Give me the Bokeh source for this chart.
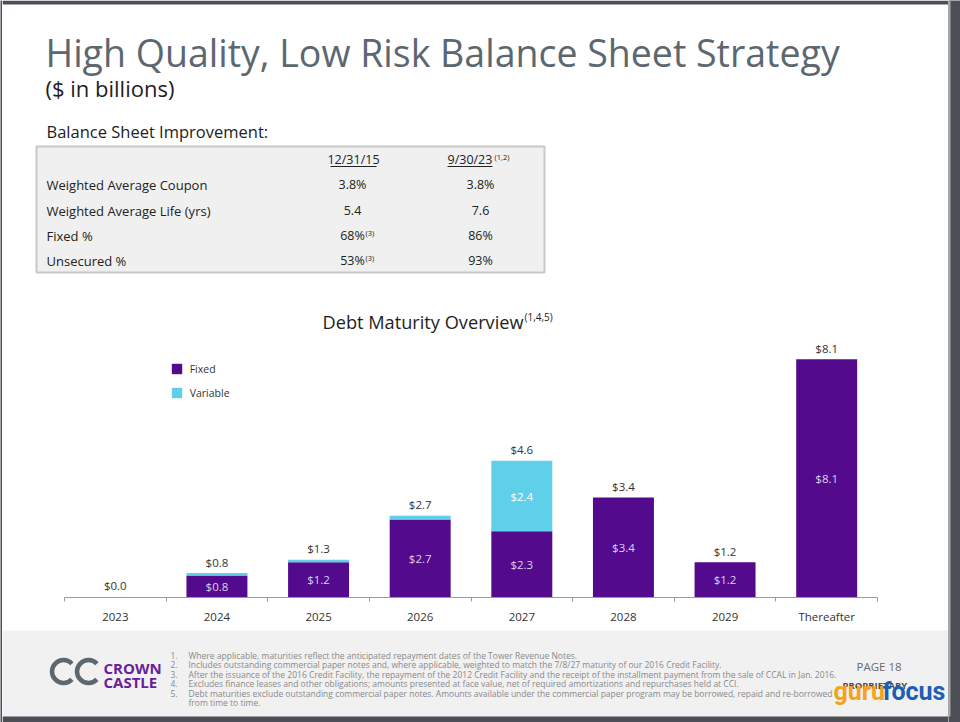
from bokeh.plotting import figure
from bokeh.models import ColumnDataSource, Range1d, FixedTicker, Legend, LegendItem
from bokeh.layouts import row, column
from bokeh.embed import file_html
from bokeh.resources import INLINE
from bokeh.core.properties import value

# ---------------- data ----------------
categories = ["2023", "2024", "2025", "2026", "2027", "2028", "2029", "Thereafter"]
fixed = [0.0, 0.75, 1.2, 2.65, 2.25, 3.4, 1.2, 8.1]
variable = [0.02, 0.08, 0.08, 0.13, 2.4, 0.0, 0.0, 0.0]
total_labels = ["$0.0", "$0.8", "$1.3", "$2.7", "$4.6", "$3.4", "$1.2", "$8.1"]
fixed_labels = ["", "$0.8", "$1.2", "$2.7", "$2.3", "$3.4", "$1.2", "$8.1"]
variable_labels = ["", "", "", "", "$2.4", "", "", ""]

table_headers = ["12/31/15", "9/30/23"]
table_rows = ["Weighted Average Coupon", "Weighted Average Life (yrs)", "Fixed %", "Unsecured %"]
col_2015 = ["3.8%", "5.4", "68%", "53%"]
col_2015_notes = ["", "", "(3)", "(3)"]
col_2023 = ["3.8%", "7.6", "86%", "93%"]

footnotes = [
    ("1.", "Where applicable, maturities reflect the anticipated repayment dates of the Tower Revenue Notes."),
    ("2.", "Includes outstanding commercial paper notes and, where applicable, weighted to match the 7/8/27 maturity of our 2016 Credit Facility."),
    ("3.", "After the issuance of the 2016 Credit Facility, the repayment of the 2012 Credit Facility and the receipt of the installment payment from the sale of CCAL in Jan. 2016."),
    ("4.", "Excludes finance leases and other obligations; amounts presented at face value, net of required amortizations and repurchases held at CCI."),
    ("5.", "Debt maturities exclude outstanding commercial paper notes. Amounts available under the commercial paper program may be borrowed, repaid and re-borrowed"),
    ("", "from time to time."),
]

# ---------------- style ----------------
FONT = "Open Sans"
PURPLE = "#530a8c"
CYAN = "#60cfea"
DARK = "#4b4f55"
SLATE = "#5c6770"

PAGE_L, PAGE_R = 2, 948          # white page area (page pixels)
AX_L, AX_R = 64, 877             # chart axis extent (page pixels)


def base_fig(w, h, xr, yr, bg="white"):
    f = figure(width=w, height=h, x_range=xr, y_range=yr, x_axis_location=None,
               y_axis_location=None, min_border=0, toolbar_location=None,
               output_backend="svg", outline_line_color=None,
               background_fill_color=bg, border_fill_color=bg)
    f.grid.visible = False
    return f


def txt(f, x, y, s, size, color, align="left", style="normal", font=FONT, baseline="middle"):
    f.text(x=[x], y=[y], text=[s], text_font=value(font), text_font_size=value(f"{size}px"),
           text_color=color, text_align=align, text_baseline=baseline,
           text_font_style=style)


# ---------------- header ----------------
H_TOP = 335
hdr = base_fig(PAGE_R - PAGE_L, H_TOP, Range1d(PAGE_L, PAGE_R), Range1d(H_TOP, 0))
hdr.quad(left=PAGE_L, right=PAGE_R, top=0, bottom=4, fill_color=DARK, line_color=None)
txt(hdr, 45, 52, "High Quality, Low Risk Balance Sheet Strategy", 37.5, SLATE)
txt(hdr, 45, 87, "($ in billions)", 22, "#1e1e1e")
txt(hdr, 46, 131, "Balance Sheet Improvement:", 16.5, "#222222")

hdr.quad(left=36, right=544, top=146, bottom=272, fill_color="#f0f0f0",
         line_color="#c8c8c8", line_width=2)
TS = 12.5
C1, C2 = 352, 480
txt(hdr, 353, 159, table_headers[0], TS, "#222222", align="center")
txt(hdr, 447, 159, table_headers[1], TS, "#222222")
txt(hdr, 494, 156, "(1,2)", 7.5, "#222222")
hdr.segment(x0=[330, 447], y0=[166, 166], x1=[376, 492], y1=[166, 166],
            line_color="#222222", line_width=1)
row_y = [184, 210, 235, 260]
for lab, a, an, b, yy in zip(table_rows, col_2015, col_2015_notes, col_2023, row_y):
    txt(hdr, 46, yy, lab, 13, "#222222")
    txt(hdr, C1, yy, a, TS, "#222222", align="center")
    if an:
        txt(hdr, 365, yy - 3, an, 7.5, "#222222")
    txt(hdr, C2, yy, b, TS, "#222222", align="center")

txt(hdr, 322, 321, "Debt Maturity Overview", 18.2, "#1e1e1e")
txt(hdr, 524, 316, "(1,4,5)", 10, "#1e1e1e")

# ---------------- chart ----------------
CH_H = 295
FRAME_H = 262
PX_PER_UNIT = 29.4
n = len(categories)
cat_px = (AX_R - AX_L) / n
xs = [i + 0.5 for i in range(n)]
totals = [f + v for f, v in zip(fixed, variable)]
src = ColumnDataSource(dict(
    x=xs, fixed=fixed, total=totals,
    fmid=[f / 2 for f in fixed],
    vmid=[f + v / 2 for f, v in zip(fixed, variable)],
    tl=total_labels, fl=fixed_labels, vl=variable_labels,
))

x_start = -(AX_L - PAGE_L) / cat_px
x_end = n + (PAGE_R - AX_R) / cat_px
ch = figure(width=PAGE_R - PAGE_L, height=CH_H, x_range=Range1d(x_start, x_end),
            y_range=Range1d(0, FRAME_H / PX_PER_UNIT), y_axis_location=None,
            toolbar_location=None, output_backend="svg",
            min_border_left=0, min_border_right=0, min_border_top=0,
            min_border_bottom=CH_H - FRAME_H,
            outline_line_color=None, background_fill_color="white", border_fill_color="white")
ch.grid.visible = False

rf = ch.vbar(x="x", bottom=0, top="fixed", width=0.6, source=src,
             fill_color=PURPLE, line_color=None)
rv = ch.vbar(x="x", bottom="fixed", top="total", width=0.6, source=src,
             fill_color=CYAN, line_color=None)

ch.text(x="x", y="total", text="tl", source=src, y_offset=-11, text_align="center",
        text_baseline="middle", text_font=value(FONT), text_font_size=value("11.5px"),
        text_color="#333333")
ch.text(x="x", y="fmid", text="fl", source=src, text_align="center",
        text_baseline="middle", text_font=value(FONT), text_font_size=value("11.5px"),
        text_color="#ddd2ee")
ch.text(x="x", y="vmid", text="vl", source=src, text_align="center",
        text_baseline="middle", text_font=value(FONT), text_font_size=value("11.5px"),
        text_color="#ffffff")

legend = Legend(items=[LegendItem(label="Fixed", renderers=[rf]),
                       LegendItem(label="Variable", renderers=[rv])],
                location=(169.7 - PAGE_L, 197.3), orientation="vertical", padding=0, margin=0,
                spacing=10, glyph_width=13, glyph_height=13, label_height=13,
                label_standoff=7, label_text_font_size="10.5px", label_text_font=FONT,
                label_text_color="#333333", border_line_color=None,
                background_fill_alpha=0)
ch.add_layout(legend)

ax = ch.xaxis[0]
ax.ticker = FixedTicker(ticks=xs, minor_ticks=list(range(n + 1)))
ax.major_label_overrides = {xv: c for xv, c in zip(xs, categories)}
ax.bounds = (0, n)
ax.axis_line_color = "#9a9a9a"
ax.axis_line_width = 1
ax.major_tick_line_color = None
ax.major_tick_out = 0
ax.major_tick_in = 0
ax.minor_tick_line_color = "#9a9a9a"
ax.minor_tick_out = 4
ax.minor_tick_in = 0
ax.major_label_standoff = 7
ax.major_label_text_font = FONT
ax.major_label_text_font_size = "11.5px"
ax.major_label_text_color = "#333333"

# ---------------- footer ----------------
ft = base_fig(PAGE_R - PAGE_L, 92, Range1d(PAGE_L, PAGE_R), Range1d(722, 630), bg="#f1f1f1")
ft.quad(left=PAGE_L, right=PAGE_R, top=716, bottom=722, fill_color=DARK, line_color=None)
ft.arc(x=[63, 88], y=[671, 671], radius=11.5, start_angle=0.75, end_angle=5.53,
       line_color=SLATE, line_width=4.5)
txt(ft, 103, 667, "CROWN", 15, "#6a1d9c", style="bold")
txt(ft, 103, 681, "CASTLE", 15, "#6a1d9c", style="bold")
fy = 655
for num, line in footnotes:
    if num:
        txt(ft, 170, fy, num, 8.5, "#8a8a8a")
    txt(ft, 188, fy, line, 8.5, "#8a8a8a")
    fy += 9.4
txt(ft, 856, 666, "PAGE 18", 11.5, "#6b6b6b")
txt(ft, 842, 685, "PROPRIETARY", 9.5, "#4a4a4a", style="bold")
txt(ft, 833, 691, "guru", 25, "#f5a31a", style="bold", font="Roboto")
txt(ft, 882, 691, "focus", 25, "#1b5fb5", style="bold", font="Roboto")

# ---------------- side strips ----------------
left_strip = base_fig(PAGE_L, 722, Range1d(0, 1), Range1d(0, 1), bg=DARK)
right_strip = base_fig(960 - PAGE_R, 722, Range1d(0, 12), Range1d(0, 1), bg=DARK)
right_strip.quad(left=0, right=2, bottom=6 / 722, top=1, fill_color="#a9a9a9", line_color=None)

page = row(left_strip, column(hdr, ch, ft), right_strip)
open("out.html", "w").write(file_html(page, INLINE))
